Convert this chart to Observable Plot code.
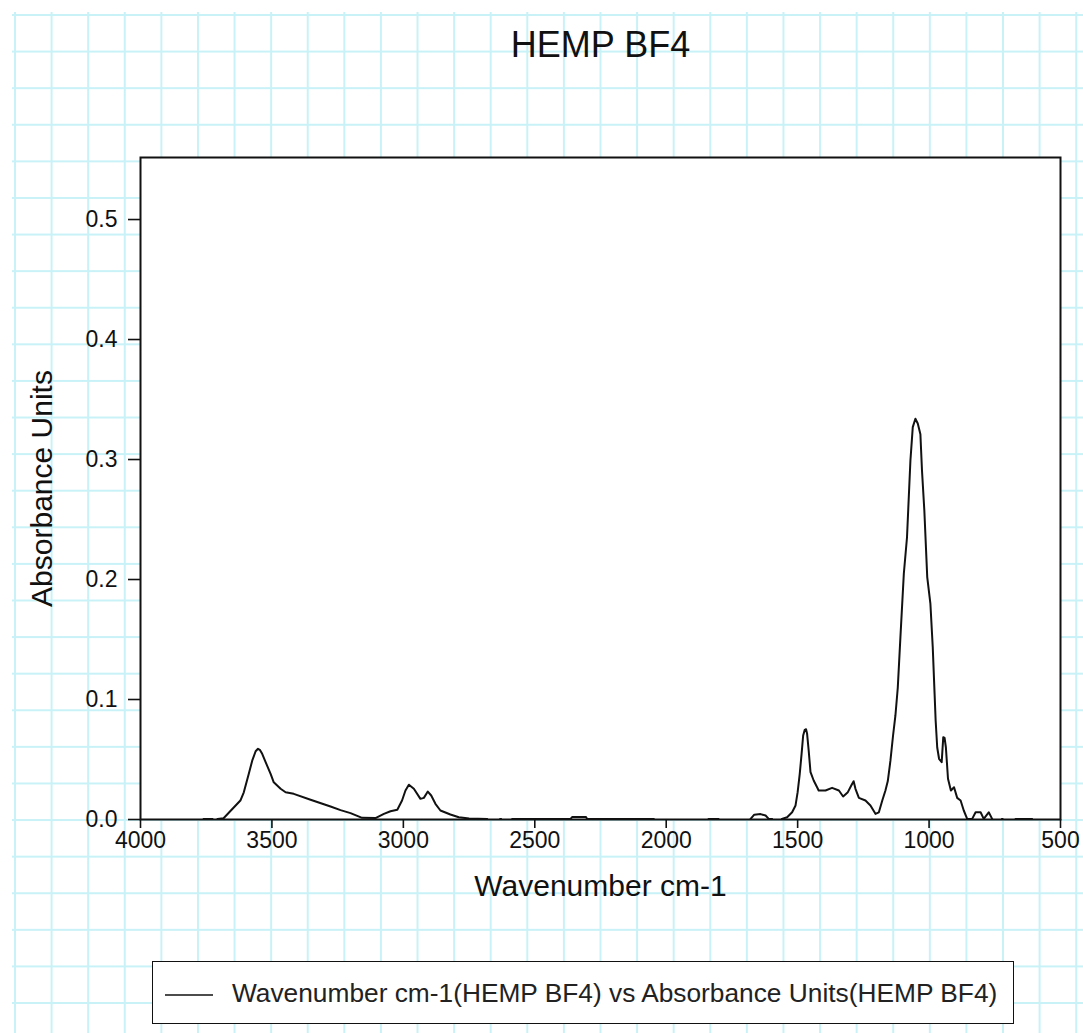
<!DOCTYPE html>
<html>
<head>
<meta charset="utf-8">
<script src="https://cdn.jsdelivr.net/npm/d3@7"></script>
<script src="https://cdn.jsdelivr.net/npm/@observablehq/plot@0.6"></script>
<style>
  html, body { margin: 0; padding: 0; background: #fff; }
  #wrap { position: relative; width: 1083px; height: 1033px; overflow: hidden; font-family: "Liberation Sans", Arial, sans-serif; }
  #grid { position: absolute; left: 12px; top: 12px; width: 1071px; height: 1021px;
    background-image: linear-gradient(to right, #c8f2f7 2px, transparent 2px), linear-gradient(to bottom, #c8f2f7 2px, transparent 2px);
    background-size: 36.6px 36.6px; background-position: 2px 2px; }
  #chart { position: absolute; left: 0; top: 0; }
  #legend { position: absolute; left: 152px; top: 961px; width: 862px; height: 63px; background: #fff; border: 1.5px solid #111; box-sizing: border-box; }
  #legend svg { position: absolute; left: 12px; top: 31px; }
  #legend span { position: absolute; left: 79px; top: 16px; font-size: 26.3px; color: #222; white-space: nowrap; line-height: 30px; }
</style>
</head>
<body>
<div id="wrap">
  <div id="grid"></div>
  <div id="chart"></div>
  <div id="legend"><svg width="50" height="4"><line x1="0" y1="2" x2="48" y2="2" stroke="#111" stroke-width="1.5"/></svg><span id="legendText"></span></div>
</div>
<script>
const title = "HEMP BF4";
const xLabel = "Wavenumber cm-1";
const yLabel = "Absorbance Units";
const legendLabel = "Wavenumber cm-1(HEMP BF4) vs Absorbance Units(HEMP BF4)";
const xTicks = [4000, 3500, 3000, 2500, 2000, 1500, 1000, 500];
const yTicks = [0, 0.1, 0.2, 0.3, 0.4, 0.5];

const wavenumber = [3760, 3726, 3725, 3707, 3684, 3620, 3607, 3588, 3575, 3562, 3553, 3545, 3537, 3524, 3505, 3493, 3467, 3448, 3417, 3353, 3277, 3239, 3201, 3157, 3106, 3074, 3049, 3023, 3005, 2992, 2979, 2960, 2935, 2922, 2907, 2894, 2878, 2859, 2821, 2789, 2750, 2681, 2680, 2632, 2628, 2627, 2586, 2364, 2358, 2305, 2301, 2047, 2046, 1839, 1801, 1800, 1679, 1665, 1641, 1622, 1610, 1597, 1596, 1560, 1540, 1521, 1508, 1500, 1492, 1485, 1479, 1473, 1468, 1464, 1458, 1451, 1439, 1426, 1420, 1394, 1369, 1343, 1327, 1309, 1296, 1287, 1280, 1267, 1242, 1223, 1204, 1191, 1178, 1166, 1157, 1147, 1137, 1128, 1119, 1109, 1096, 1084, 1071, 1062, 1052, 1043, 1033, 1027, 1018, 1007, 995, 986, 979, 975, 969, 962, 952, 946, 941, 936, 928, 917, 905, 893, 880, 868, 855, 836, 823, 804, 792, 773, 760, 759, 723, 720, 719, 671, 608];
const absorbance = [0.0005, 0.0005, null, 0.0005, 0.001, 0.0158, 0.0227, 0.0381, 0.049, 0.0569, 0.059, 0.0578, 0.0547, 0.0478, 0.0381, 0.031, 0.0256, 0.0227, 0.0214, 0.0165, 0.0108, 0.0078, 0.0053, 0.0014, 0.0012, 0.0047, 0.0069, 0.0081, 0.0158, 0.0242, 0.029, 0.0256, 0.0172, 0.018, 0.0233, 0.02, 0.0131, 0.0075, 0.0042, 0.0019, 0.0008, 0.0005, null, 0.0005, 0.0005, null, 0.0005, 0.0005, 0.002, 0.002, 0.0005, 0.0005, null, 0.0005, 0.0005, null, 0.0005, 0.004, 0.0045, 0.0033, 0.0005, 0.0005, null, 0.0005, 0.0019, 0.006, 0.0117, 0.0228, 0.038, 0.0547, 0.07, 0.0747, 0.0752, 0.0714, 0.0575, 0.0394, 0.0325, 0.0269, 0.0242, 0.0242, 0.0264, 0.0242, 0.0192, 0.0228, 0.0283, 0.0319, 0.0256, 0.018, 0.0158, 0.0117, 0.0047, 0.006, 0.0158, 0.0242, 0.032, 0.049, 0.07, 0.0867, 0.11, 0.152, 0.205, 0.235, 0.299, 0.327, 0.334, 0.33, 0.321, 0.291, 0.2575, 0.202, 0.18, 0.1436, 0.1047, 0.0825, 0.06, 0.0506, 0.0478, 0.0686, 0.068, 0.06, 0.034, 0.0242, 0.0269, 0.018, 0.0158, 0.0075, 0.0005, 0.0005, 0.006, 0.006, 0.0005, 0.006, 0.0005, null, 0.0005, 0.0005, null, 0.0005, 0.0005];

const data = wavenumber.map((w, i) => ({w, a: absorbance[i]}));

const chart = Plot.plot({
  width: 1083,
  height: 1033,
  marginLeft: 140,
  marginRight: 23,
  marginTop: 157,
  marginBottom: 214,
  style: {background: "transparent", fontFamily: "Liberation Sans, Arial, sans-serif", fontSize: "23px", color: "#111", overflow: "visible"},
  x: {domain: [4000, 500], ticks: xTicks, tickFormat: d => String(d), tickSize: 9, tickPadding: 3, label: null},
  y: {domain: [0, 0.5517], ticks: yTicks, tickFormat: d => d.toFixed(1), tickSize: 12, tickPadding: 11, label: null},
  marks: [
    Plot.frame({fill: "white", stroke: "none"}),
    Plot.line(data, {x: "w", y: "a", stroke: "#111", strokeWidth: 2}),
    Plot.frame({stroke: "#111", strokeWidth: 2}),
    Plot.axisX({ticks: xTicks, tickFormat: d => String(d), tickSize: 9, tickPadding: 3, strokeWidth: 1.6, fontSize: 23, label: null}),
    Plot.axisY({ticks: yTicks, tickFormat: d => d.toFixed(1), tickSize: 12, tickPadding: 11, strokeWidth: 1.6, fontSize: 23, label: null}),
    Plot.text([title], {frameAnchor: "top", lineAnchor: "middle", textAnchor: "middle", dy: -112, fontSize: 36, fill: "#111"}),
    Plot.text([xLabel], {frameAnchor: "bottom", lineAnchor: "middle", textAnchor: "middle", dy: 67, fontSize: 30, fill: "#111"}),
    Plot.text([yLabel], {frameAnchor: "left", lineAnchor: "middle", textAnchor: "middle", dx: -98, rotate: -90, fontSize: 30, fill: "#111"})
  ]
});
document.getElementById("chart").appendChild(chart);
document.getElementById("legendText").textContent = legendLabel;
</script>
</body>
</html>
